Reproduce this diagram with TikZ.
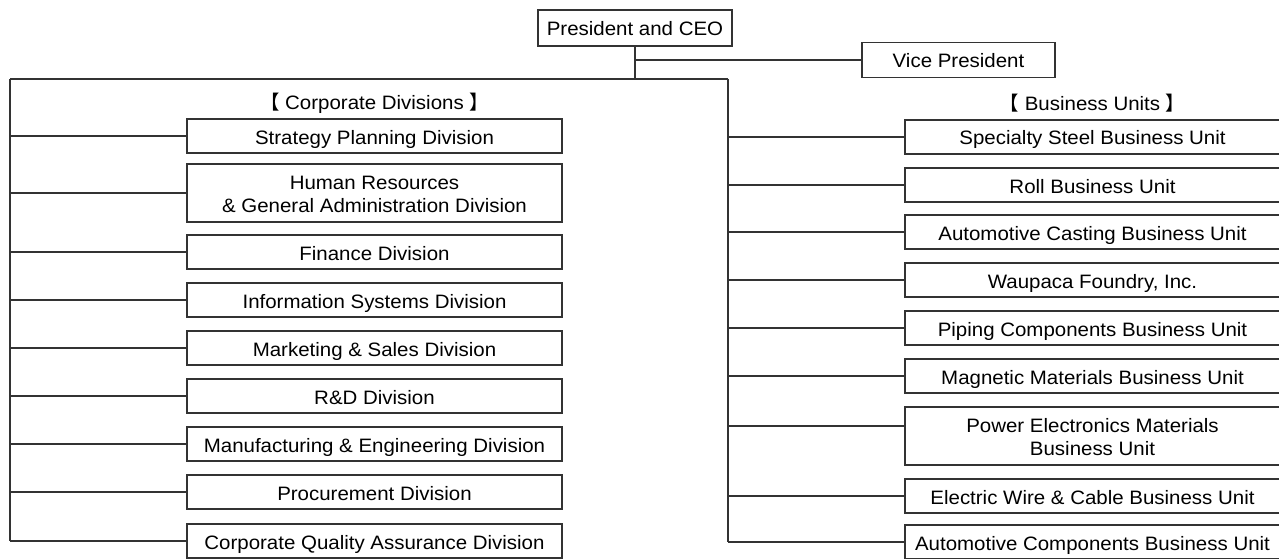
\documentclass[tikz,border=0pt]{standalone}
\usepackage{fontspec}
\setmainfont{Liberation Sans}[FakeStretch=1.055]
\newfontfamily\cjk{Noto Sans CJK SC}
\begin{document}
\begin{tikzpicture}[x=1pt,y=-1pt,line width=1.2pt,
  box/.style={draw=black!80,line width=1.2pt,minimum width=375pt,inner sep=2pt,align=center,text depth=0pt,font=\fontsize{19.4}{22.5}\selectfont},
  one/.style={minimum height=34pt,text height=16pt},
  two/.style={minimum height=58pt,text height=38.5pt},
  head/.style={font=\fontsize{19.4}{22.5}\selectfont},
  link/.style={draw=black!80,line width=1.2pt}]
\useasboundingbox (0,0) rectangle (1279,559);
\pgfmathsetmacro{\cx}{374.5}
\pgfmathsetmacro{\bx}{1092.5}
\node[box,one,minimum width=194pt,minimum height=36pt] (pres) at (635,28) {President and CEO};
\node[box,one,minimum width=193pt,minimum height=35pt] (vp) at (958.5,60) {Vice President};
\coordinate (hub) at (635,79);
\coordinate (cl) at (10,79);
\coordinate (cr) at (728,79);
\node[head] (corphead) at (\cx,103) {{\cjk 【} Corporate Divisions {\cjk 】}};
\node[head] (buhead) at (\bx,103) {{\cjk 【} Business Units {\cjk 】}};
\foreach \n/\y/\h/\t in {corp1/136/one/Strategy Planning Division,
  corp2/193/two/{Human Resources\\\& General Administration Division},
  corp3/252/one/Finance Division,
  corp4/300/one/Information Systems Division,
  corp5/348/one/Marketing \& Sales Division,
  corp6/396/one/R\&D Division,
  corp7/444/one/Manufacturing \& Engineering Division,
  corp8/492/one/Procurement Division,
  corp9/541/one/Corporate Quality Assurance Division}
  \node[box,\h] (\n) at (\cx,\y) {\t};
\foreach \n/\y/\h/\t in {bu1/137/one/Specialty Steel Business Unit,
  bu2/185/one/Roll Business Unit,
  bu3/232/one/Automotive Casting Business Unit,
  bu4/280/one/{Waupaca Foundry, Inc.},
  bu5/328/one/Piping Components Business Unit,
  bu6/376/one/Magnetic Materials Business Unit,
  bu7/436/two/{Power Electronics Materials\\Business Unit},
  bu8/496/one/Electric Wire \& Cable Business Unit,
  bu9/542/one/Automotive Components Business Unit}
  \node[box,\h] (\n) at (\bx,\y) {\t};
\coordinate (bu7in) at ([yshift=10pt]bu7.west);
\draw[link](pres.south)--(hub);
\draw[link](pres.south|-vp.west)--(vp.west);
\draw[link](cl)--(cr);
\draw[link](cl)--(cl|-corp9.west);
\draw[link](cr)--(cr|-bu9.west);
\foreach \n in {corp1,corp2,corp3,corp4,corp5,corp6,corp7,corp8,corp9}
  \draw[link](cl|-\n.west)--(\n.west);
\foreach \n in {bu1,bu2,bu3,bu4,bu5,bu6,bu8,bu9}
  \draw[link](cr|-\n.west)--(\n.west);
\draw[link](cr|-bu7in)--(bu7in);
\end{tikzpicture}
\end{document}
